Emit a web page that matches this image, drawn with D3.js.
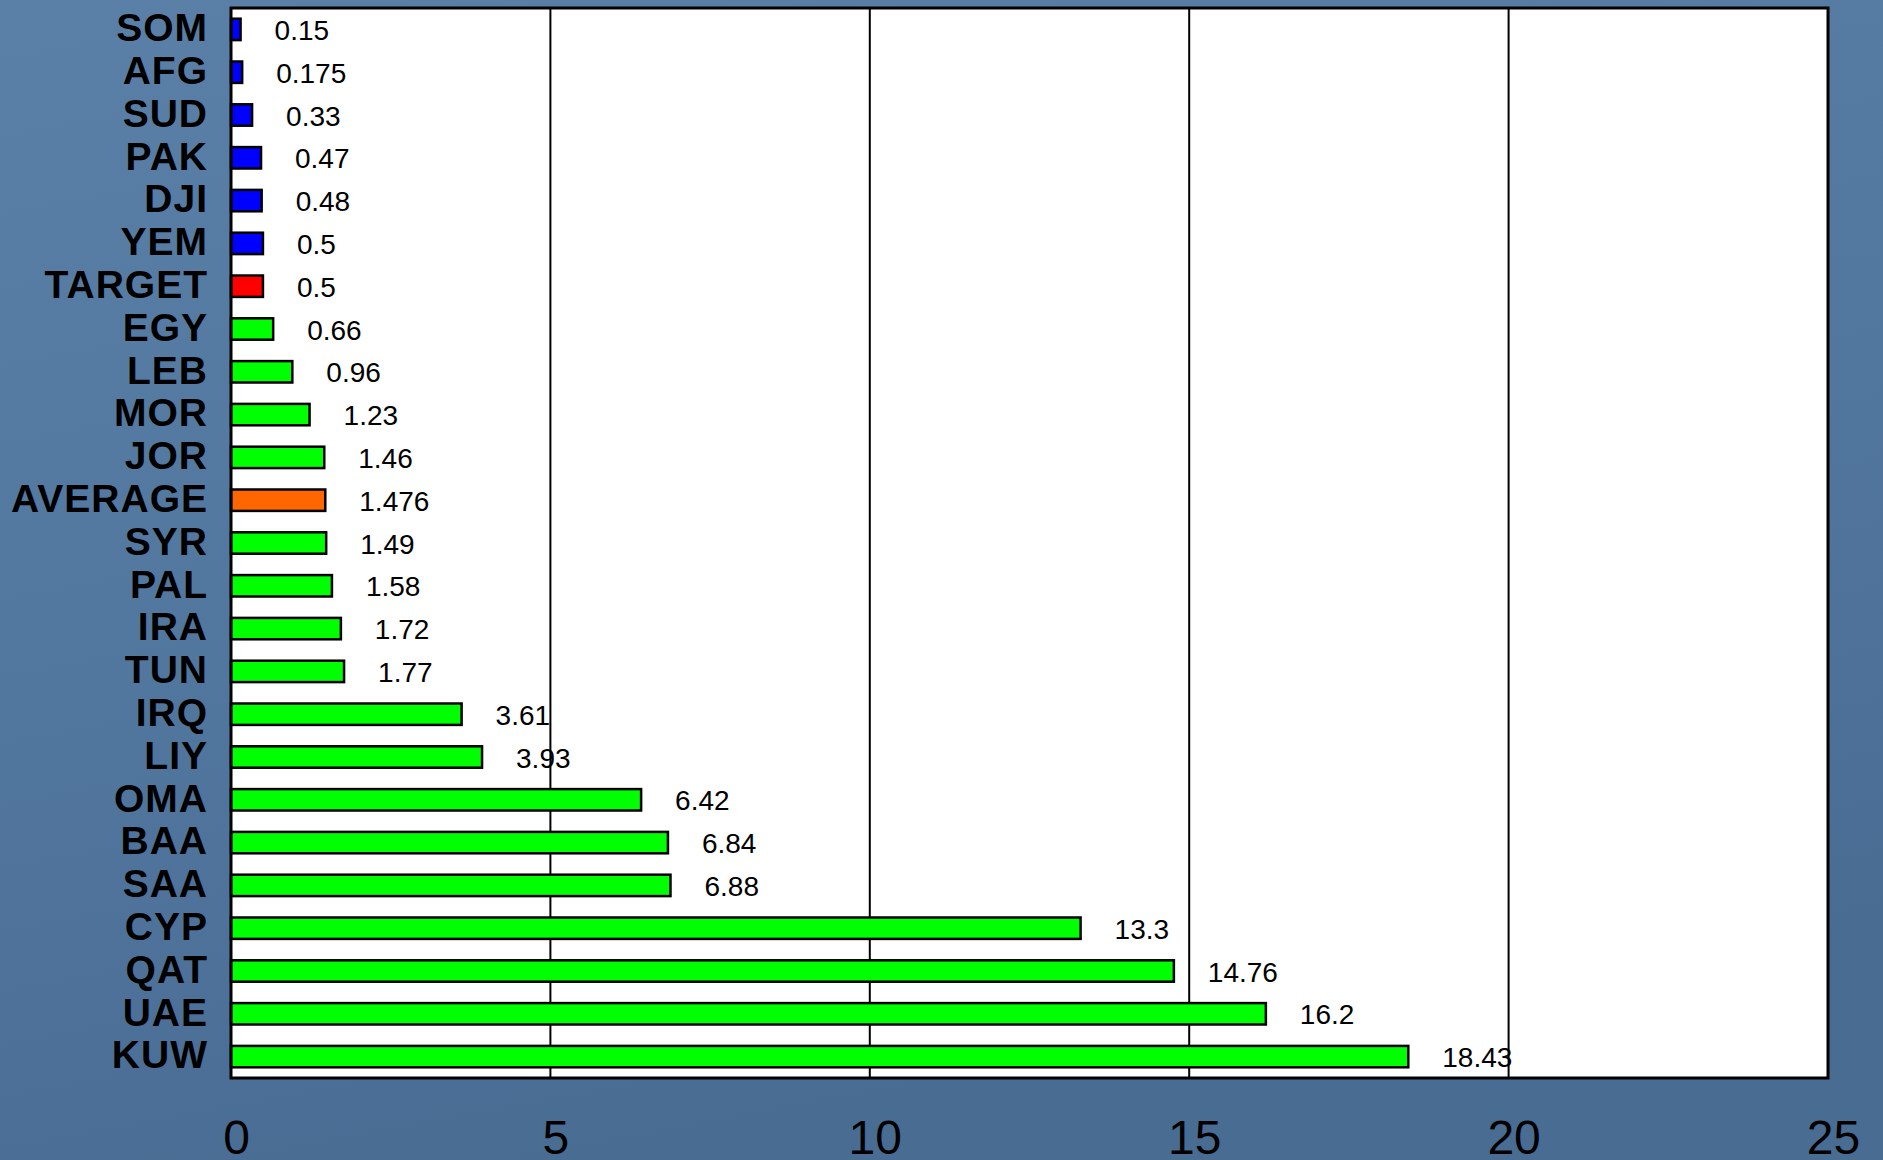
<!DOCTYPE HTML>
<html>
<head>
  <meta charset="utf-8">
  <title>Bars</title>
  <script src="https://d3js.org/d3.v7.min.js" type="text/javascript"></script>
<style>
body { margin: 0; background: #52779f; }
svg { display: block; }
.cat { font-family: "Liberation Sans", Arial, sans-serif; font-weight: bold; font-size: 39px; letter-spacing: 1px; fill: #000; }
.val { font-family: "Liberation Sans", Arial, sans-serif; font-size: 28px; fill: #000; }
.x.axis text { font-family: "Liberation Sans", Arial, sans-serif; font-size: 48px; fill: #000; }
.x.axis path, .x.axis line { display: none; }
</style>
</head>
<body>
<script>
const categories = ["SOM", "AFG", "SUD", "PAK", "DJI", "YEM", "TARGET", "EGY", "LEB", "MOR", "JOR", "AVERAGE",
  "SYR", "PAL", "IRA", "TUN", "IRQ", "LIY", "OMA", "BAA", "SAA", "CYP", "QAT", "UAE", "KUW"]
const values = [0.15, 0.175, 0.33, 0.47, 0.48, 0.5, 0.5, 0.66, 0.96, 1.23, 1.46, 1.476,
  1.49, 1.58, 1.72, 1.77, 3.61, 3.93, 6.42, 6.84, 6.88, 13.3, 14.76, 16.2, 18.43]
const groups = ["low", "low", "low", "low", "low", "low", "target", "ok", "ok", "ok", "ok", "average",
  "ok", "ok", "ok", "ok", "ok", "ok", "ok", "ok", "ok", "ok", "ok", "ok", "ok"]
const xTicks = [0, 5, 10, 15, 20, 25]

const colors = {low: "#0000ff", target: "#ff0000", average: "#ff6600", ok: "#00ff00"}
const data = categories.map(function(c, i) { return {name: c, value: values[i], group: groups[i]} })

var W = 1883, H = 1160
var plotL = 231, plotR = 1828, plotT = 8, plotB = 1078

var svg = d3.select("body").append("svg")
    .attr("width", W)
    .attr("height", H)

var defs = svg.append("defs")
var grad = defs.append("linearGradient").attr("id", "bg").attr("x1", 0).attr("y1", 0).attr("x2", 0.3).attr("y2", 1)
grad.append("stop").attr("offset", "0%").attr("stop-color", "#5b80a8")
grad.append("stop").attr("offset", "55%").attr("stop-color", "#52779f")
grad.append("stop").attr("offset", "100%").attr("stop-color", "#496c93")
svg.append("rect").attr("width", W).attr("height", H).attr("fill", "url(#bg)")

var x = d3.scaleLinear().domain([0, 25]).range([plotL, plotR])
var y = d3.scaleBand().domain(categories).range([plotT, plotB]).paddingInner(0.5).paddingOuter(0.25)

// plot area
svg.append("rect")
  .attr("x", plotL).attr("y", plotT)
  .attr("width", plotR - plotL).attr("height", plotB - plotT)
  .attr("fill", "#fff")

// grid lines
svg.selectAll(".grid")
  .data(xTicks.slice(1, -1))
  .enter().append("line")
  .attr("class", "grid")
  .attr("x1", function(d) { return x(d) }).attr("x2", function(d) { return x(d) })
  .attr("y1", plotT).attr("y2", plotB)
  .attr("stroke", "#000").attr("stroke-width", 2)

// bars
svg.selectAll(".bar")
  .data(data)
  .enter().append("rect")
  .attr("class", "bar")
  .attr("x", x(0))
  .attr("y", function(d) { return y(d.name) })
  .attr("width", function(d) { return x(d.value) - x(0) })
  .attr("height", y.bandwidth())
  .attr("fill", function(d) { return colors[d.group] })
  .attr("stroke", "#000").attr("stroke-width", 2.5)

// value labels
svg.selectAll(".val")
  .data(data)
  .enter().append("text")
  .attr("class", "val")
  .attr("x", function(d) { return x(d.value) + 34 })
  .attr("y", function(d) { return y(d.name) + y.bandwidth() / 2 })
  .attr("dy", "0.38em")
  .text(function(d) { return d.value })

// frame
svg.append("rect")
  .attr("x", plotL).attr("y", plotT)
  .attr("width", plotR - plotL).attr("height", plotB - plotT)
  .attr("fill", "none").attr("stroke", "#000").attr("stroke-width", 3)

// category labels
svg.selectAll(".cat")
  .data(data)
  .enter().append("text")
  .attr("class", "cat")
  .attr("x", plotL - 23)
  .attr("y", function(d) { return y(d.name) + y.bandwidth() / 2 })
  .attr("dy", "0.30em")
  .attr("text-anchor", "end")
  .text(function(d) { return d.name })

var xAxis = d3.axisBottom(x).tickValues(xTicks).tickSize(0).tickPadding(0)
svg.append("g")
  .attr("class", "x axis")
  .attr("transform", "translate(5," + (plotB + 76) + ")")
  .call(xAxis)
  .selectAll("text").attr("dy", 0)
</script>
</body>
</html>
